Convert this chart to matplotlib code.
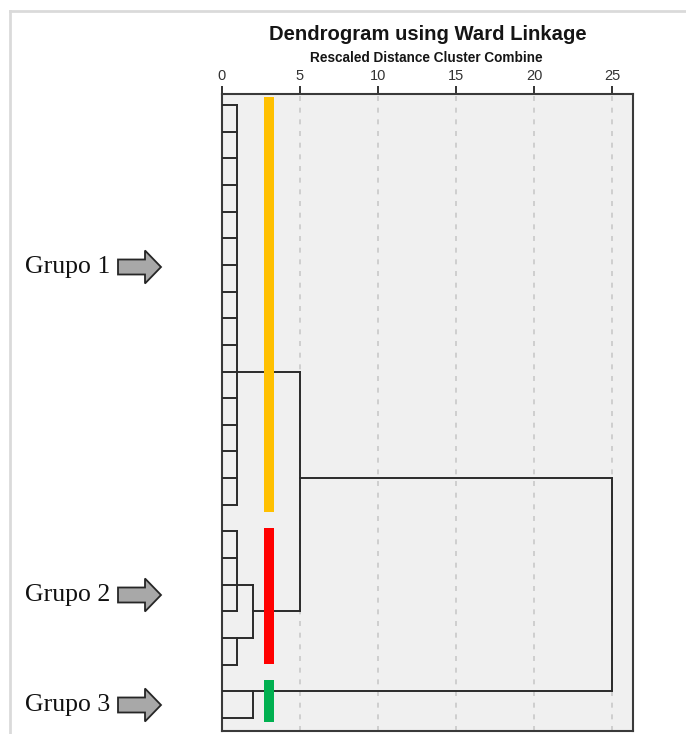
import matplotlib
matplotlib.use("Agg")
import matplotlib.pyplot as plt
from matplotlib.patches import Polygon

# ---------------- data ----------------
n_leaves = 24
leaf_rows = list(range(n_leaves))

# internal nodes: name -> (children, rescaled distance, connector row)
node_children = {
    "A": list(range(0, 16)),
    "B": [16, 17, 18, 19],
    "C": [20, 21],
    "D": ["B", "C"],
    "E": [22, 23],
    "F": ["A", "D"],
    "G": ["F", "E"],
}
node_height = {"A": 1, "B": 1, "C": 1, "D": 2, "E": 2, "F": 5, "G": 25}
node_row = {"A": 10, "B": 18, "C": 20, "D": 19, "E": 22, "F": 14, "G": 14}

group_names = ["Grupo 1", "Grupo 2", "Grupo 3"]
group_colors = ["#FFC000", "#FF0000", "#00B050"]
group_bar_start = [-0.30, 15.87, 21.58]
group_bar_end = [15.26, 20.98, 23.15]
group_bar_x = 3.0

x_ticks = [0, 5, 10, 15, 20, 25]

# ---------------- figure ----------------
W, H = 686, 734
fig = plt.figure(figsize=(W / 100, H / 100), dpi=100)
fig.patch.set_facecolor("white")

ax_l, ax_r, ax_t, ax_b = 221.7, 633.0, 94.0, 731.0
ax = fig.add_axes([ax_l / W, 1 - ax_b / H, (ax_r - ax_l) / W, (ax_b - ax_t) / H])
ax.set_facecolor("#F0F0F0")

px_per_unit = (612.3 - 221.7) / 25.0
ax.set_xlim(0, (ax_r - ax_l) / px_per_unit)
row_px = 26.65
ax.set_ylim((ax_b - 105) / row_px, (ax_t - 105) / row_px)

# grid
for t in x_ticks[1:]:
    ax.axvline(t, color="#C9C9C9", lw=1.2, ls=(0, (3, 4)), zorder=1)

line_kw = dict(color="#2A2A2A", lw=1.4, zorder=3, solid_capstyle="projecting")


def info(c):
    if isinstance(c, int):
        return 0.0, leaf_rows[c]
    return node_height[c], node_row[c]


for name, kids in node_children.items():
    h = node_height[name]
    rows = []
    for k in kids:
        kh, kr = info(k)
        rows.append(kr)
        ax.plot([kh, h], [kr, kr], **line_kw)
    ax.plot([h, h], [min(rows), max(rows)], **line_kw)

# colored group bars
for c, s, e in zip(group_colors, group_bar_start, group_bar_end):
    ax.bar(group_bar_x, e - s, bottom=s, width=0.64, color=c, zorder=4, linewidth=0)

# axis styling
ax.xaxis.tick_top()
ax.set_xticks(x_ticks)
ax.set_xticklabels([str(t) for t in x_ticks], family="Liberation Sans")
ax.tick_params(axis="x", direction="out", length=6, width=1.4, color="#333333",
               labelsize=10.5, labelcolor="#333333", pad=2)
ax.set_yticks([])
for sp in ax.spines.values():
    sp.set_color("#3A3A3A")
    sp.set_linewidth(1.5)

# titles
fig.text(427.5 / W, 1 - 35 / H, "Dendrogram using Ward Linkage", ha="center", va="center",
         fontsize=14.6, fontweight="bold", color="#151515", family="Liberation Sans")
fig.text(426.5 / W, 1 - 57.5 / H, "Rescaled Distance Cluster Combine", ha="center", va="center",
         fontsize=9.8, fontweight="bold", color="#151515", family="Liberation Sans")

# overlay for annotations (pixel coordinates)
ov = fig.add_axes([0, 0, 1, 1], zorder=-1)
ov.set_xlim(0, W)
ov.set_ylim(H, 0)
ov.axis("off")
ov.patch.set_alpha(0)

# light frame of the original image
ov.plot([9.5, W], [11, 11], color="#DADADA", lw=2)
ov.plot([9.5, 9.5], [11, H], color="#DADADA", lw=2)

group_label_y = [267, 595, 705]
for name, y in zip(group_names, group_label_y):
    ov.text(25, y, name, ha="left", va="center", fontsize=18.5, family="Liberation Serif",
            color="#111111")
    x0, x1, x2 = 118, 145, 161
    hs, hh = 7.5, 16.5
    pts = [(x0, y - hs), (x1, y - hs), (x1, y - hh), (x2, y), (x1, y + hh),
           (x1, y + hs), (x0, y + hs)]
    ov.add_patch(Polygon(pts, closed=True, facecolor="#A8A8A8", edgecolor="#262626", lw=1.3))

fig.savefig("out.png", dpi=100)
